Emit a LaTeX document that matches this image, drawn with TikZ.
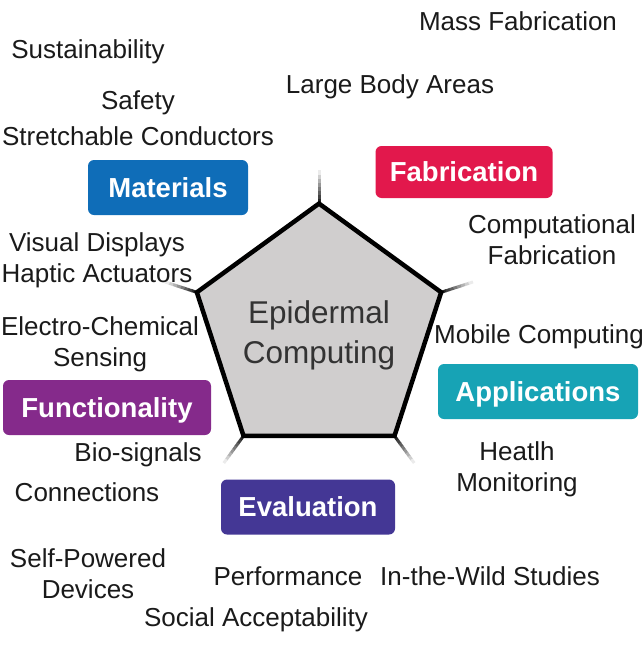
\documentclass[tikz,border=0pt]{standalone}
\usepackage{fontspec}
\setmainfont{Liberation Sans}
\usepackage{xcolor}
\usetikzlibrary{shapes.geometric, positioning}
\definecolor{matBlue}{RGB}{15,109,184}
\definecolor{fabRed}{RGB}{226,24,76}
\definecolor{appTeal}{RGB}{23,163,181}
\definecolor{funPurple}{RGB}{133,42,139}
\definecolor{evalIndigo}{RGB}{68,55,149}
\definecolor{coreGray}{RGB}{208,206,206}
\definecolor{inkGray}{RGB}{26,26,26}
\tikzset{
    core/.style={regular polygon, regular polygon sides=5, draw=black, line width=3pt, fill=coreGray, minimum size=255pt, inner sep=0pt},
    coretext/.style={align=center, inner sep=0pt, text=black!80, font=\fontsize{31.5}{40}\selectfont},
    category/.style={rectangle, rounded corners=6pt, text=white, inner sep=0pt, minimum height=55pt, text height=19.8pt, text depth=0pt, font=\bfseries\fontsize{27.5}{33}\selectfont},
    topic/.style={align=center, inner sep=0pt, text=inkGray, font=\fontsize{26}{31}\selectfont},
    spoke/.style={line width=3pt}
}

\begin{document}
\begin{tikzpicture}[x=1pt, y=-1pt]
    \useasboundingbox (0,0) rectangle (644,645);

    % Pentagon with fading spokes
    \node[core] (ec) at (319,332) {};
    \foreach \i/\a in {1/90, 2/162, 3/234, 4/306, 5/18}
        \foreach \k in {0,...,7}
            \draw[spoke, black!\the\numexpr 85-11*\k\relax] (ec.corner \i) ++(\a:4*\k pt) -- ++(\a:4.6pt);
    \draw[line width=3pt, line join=miter] (ec.corner 1) -- (ec.corner 2) -- (ec.corner 3) -- (ec.corner 4) -- (ec.corner 5) -- cycle;
    \node[coretext] (ectext) at (ec.center) [yshift=-3.5pt] {Epidermal\\Computing};

    % Categories
    \node[category, fill=matBlue, minimum width=160pt] (materials) at (168,187.5) {Materials};
    \node[category, fill=fabRed, minimum width=177pt, minimum height=52pt] (fabrication) at (464,172) {Fabrication};
    \node[category, fill=appTeal, minimum width=200pt] (applications) at (538,391.5) {Applications};
    \node[category, fill=funPurple, minimum width=208pt] (functionality) at (107,407.5) {Functionality};
    \node[category, fill=evalIndigo, minimum width=174pt] (evaluation) at (308,507) {Evaluation};

    % Topics
    \node[topic] (mass) at (518,21) {Mass Fabrication};
    \node[topic] (sustain) at (88,52) {Sustainability};
    \node[topic] (large) at (390,87) {Large Body Areas};
    \node[topic] (safety) at (138,103) {Safety};
    \node[topic] (stretch) at (138,136) {Stretchable Conductors};
    \node[topic] (compfab) at (552,240) {Computational\\Fabrication};
    \node[topic] (visual) at (97,260) {Visual Displays\\Haptic Actuators};
    \node[topic] (electro) at (100,344) {Electro-Chemical\\Sensing};
    \node[topic] (mobile) at (539,337) {Mobile Computing};
    \node[topic] (bio) at (138,455) {Bio-signals};
    \node[topic] (health) at (517,469) {Heatlh\\Monitoring};
    \node[topic] (conn) at (87,492) {Connections};
    \node[topic] (selfpow) at (88,573.5) {Self-Powered\\Devices};
    \node[topic] (perf) at (288,576) {Performance};
    \node[topic] (wild) at (490,576) {In-the-Wild Studies};
    \node[topic] (social) at (256,620) {Social Acceptability};
\end{tikzpicture}
\end{document}
